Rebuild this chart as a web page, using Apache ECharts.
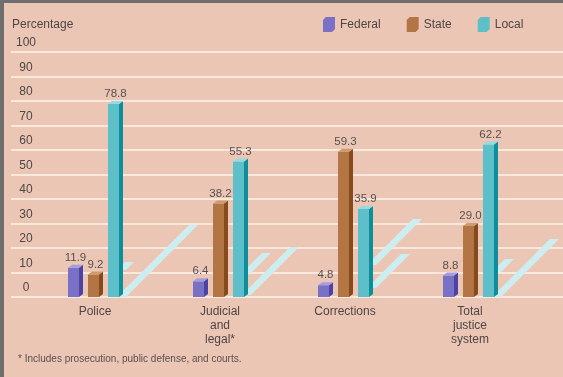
<!DOCTYPE html>
<html>
<head>
<meta charset="utf-8">
<script src="https://cdn.jsdelivr.net/npm/echarts@6/dist/echarts.min.js"></script>
<style>
  html, body { margin: 0; padding: 0; background: #6e6e6e; }
  #frame { width: 563px; height: 377px; box-sizing: border-box; border-left: 4px solid #6e6e6e; border-top: 3px solid #6e6e6e; }
  #chart { width: 559px; height: 374px; }
</style>
</head>
<body>
<div id="frame"><div id="chart"></div></div>
<script>
var categories = ['Police', 'Judicial\nand\nlegal*', 'Corrections', 'Total\njustice\nsystem'];
var seriesNames = ['Federal', 'State', 'Local'];
var federal = [11.9, 6.4, 4.8, 8.8];
var state = [9.2, 38.2, 59.3, 29.0];
var local = [78.8, 55.3, 35.9, 62.2];

var FONT = '"Liberation Sans", Arial, sans-serif';
var TEXT = '#4f4646';
var barColors = [
  { front: '#7a71c7', side: '#4d43a4', top: '#a49de0' },
  { front: '#b37543', side: '#874a1c', top: '#cf9a6c' },
  { front: '#5cbfca', side: '#0e8e9a', top: '#94dae0' }
];
// light streaks behind each group: [lift above base, run] in px
var streakShape = [
  [[0, 72], [27, 8]],
  [[2, 48], [24, 20]],
  [[32, 46], [9, 34]],
  [[0, 58], [25, 13]]
];

var chart = echarts.init(document.getElementById('chart'));

function barSeries(s, values) {
  return {
    name: seriesNames[s],
    type: 'custom',
    xAxisIndex: 0, yAxisIndex: 0,
    itemStyle: { color: barColors[s].front },
    z: 5,
    encode: { x: 0, y: 1 },
    data: values.map(function (v, i) { return [i, v]; }),
    renderItem: function (params, api) {
      var i = api.value(0), v = api.value(1);
      var top = api.coord([i, v]);
      var base = api.coord([i, 0]);
      var x = top[0] + (s - 1) * 20 - 7;
      var w = 11, d = 4, h = 3;
      var c = barColors[s];
      var ty = top[1], by = base[1];
      return {
        type: 'group',
        children: [
          { type: 'rect', shape: { x: x, y: ty, width: w, height: by - ty }, style: { fill: c.front } },
          { type: 'polygon', shape: { points: [[x + w, ty], [x + w + d, ty - h], [x + w + d, by - h], [x + w, by]] }, style: { fill: c.side } },
          { type: 'polygon', shape: { points: [[x, ty], [x + d, ty - h], [x + w + d, ty - h], [x + w, ty]] }, style: { fill: c.top } },
          { type: 'text', x: x + (w + d) / 2, y: ty - h - 1,
            style: { text: v.toFixed(1), fill: '#5a5050', font: '11.5px ' + FONT, align: 'center', verticalAlign: 'bottom' } }
        ]
      };
    }
  };
}

var option = {
  backgroundColor: '#ebc6b4',
  animation: false,
  title: [
    { text: 'Percentage', left: 8, top: 16, padding: 0,
      textStyle: { fontSize: 12, fontWeight: 'normal', color: TEXT, fontFamily: FONT } },
    { text: '* Includes prosecution, public defense, and courts.', left: 14, top: 351, padding: 0,
      textStyle: { fontSize: 10, fontWeight: 'normal', color: '#5a5050', fontFamily: FONT } }
  ],
  legend: {
    data: seriesNames, left: 319, top: 14, padding: 0,
    itemWidth: 12, itemHeight: 15, itemGap: 26,
    icon: 'path://M0,3L3,0L12,0L12,12L9,15L0,15Z',
    textStyle: { fontSize: 12, color: TEXT, fontFamily: FONT }
  },
  grid: [
    { left: 28.5, right: 30.5, top: 49, bottom: 80 },
    { left: 7, right: 0, top: 49, bottom: 80 }
  ],
  xAxis: [
    { type: 'category', gridIndex: 0, data: categories,
      axisLine: { show: false }, axisTick: { show: false }, splitLine: { show: false },
      axisLabel: { margin: 8, fontSize: 12, lineHeight: 14, color: TEXT, fontFamily: FONT, interval: 0 } },
    { type: 'value', gridIndex: 1, show: false, min: 0, max: 1 }
  ],
  yAxis: [
    { type: 'value', gridIndex: 0, min: 0, max: 100, show: false },
    { type: 'value', gridIndex: 1, min: 0, max: 100, interval: 10,
      axisLine: { show: false }, axisTick: { show: false },
      splitLine: { lineStyle: { color: '#f9e8dc', width: 2 } },
      axisLabel: { inside: true, margin: 15, align: 'center', verticalAlign: 'bottom', padding: [0, 0, 3, 0],
        fontSize: 12, color: TEXT, fontFamily: FONT } }
  ],
  series: [
    {
      type: 'custom', name: 'streak', xAxisIndex: 0, yAxisIndex: 0, z: 3, silent: true,
      encode: { x: 0, y: 1 },
      data: categories.map(function (c, i) { return [i, 0]; }),
      renderItem: function (params, api) {
        var i = api.value(0);
        var base = api.coord([i, 0]);
        var x0 = base[0] + 22;
        var w = 9;
        var kids = streakShape[i].map(function (sp) {
          var y0 = base[1] - sp[0], dd = sp[1];
          return { type: 'polygon',
            shape: { points: [[x0, y0], [x0 + w, y0], [x0 + w + dd, y0 - dd], [x0 + dd, y0 - dd]] },
            style: { fill: '#cdeef1' } };
        });
        return { type: 'group', children: kids };
      }
    },
    barSeries(0, federal),
    barSeries(1, state),
    barSeries(2, local)
  ]
};
chart.setOption(option);
</script>
</body>
</html>
